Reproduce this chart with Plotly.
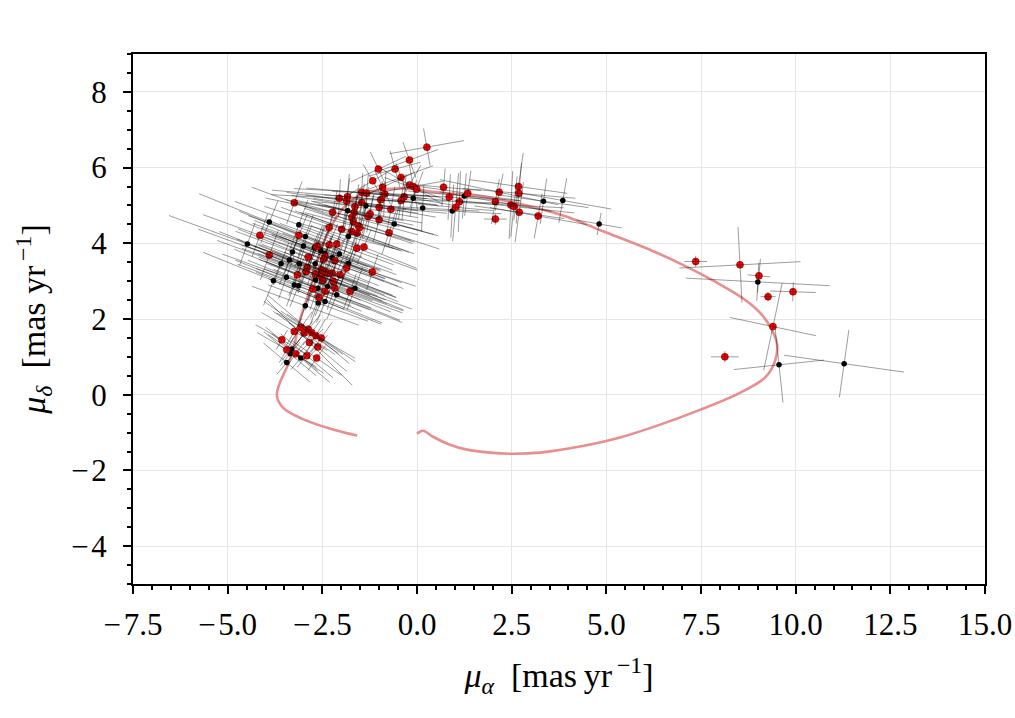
import numpy as np
import plotly.graph_objects as go

# ---------------- orbit curve ----------------
orbit_x = [0.00, 0.16, 0.42, 0.87, 1.32, 1.93, 2.46, 3.25, 4.30, 5.36, 6.42, 7.47, 8.53, 9.19,
           9.45, 9.51, 9.37, 9.11, 8.66, 7.92, 7.02, 6.15, 4.83, 3.96, 3.06, 2.19, 1.32, 0.42,
           -0.10, -0.45, -1.16, -1.69, -2.03, -2.38, -2.64, -2.83, -3.09, -3.27, -3.43, -3.62,
           -3.70, -3.54, -3.09, -2.22, -1.58]
orbit_y = [-1.03, -0.95, -1.11, -1.32, -1.45, -1.53, -1.56, -1.53, -1.37, -1.13, -0.79, -0.40,
           0.05, 0.45, 0.87, 1.32, 1.72, 2.11, 2.51, 2.96, 3.43, 3.83, 4.35, 4.70, 4.96, 5.15,
           5.28, 5.36, 5.44, 5.45, 5.38, 5.17, 4.83, 4.22, 3.51, 2.77, 1.98, 1.19, 0.74, 0.32,
           -0.03, -0.34, -0.61, -0.92, -1.08]

# ---------------- black stars ----------------
black_x = [-4.48, -3.90, -3.12, -2.95, -3.00, -3.29, -3.37, -3.59, -3.11, -3.79, -3.45, -3.24,
           -3.13, -2.71, -2.54, -2.05, -2.24, -1.81, -2.36, -2.68, -2.62, -2.12, -1.64, -2.43,
           -2.61, -2.95, -2.43, -2.69, -3.31, -3.35, -3.07, -3.44, -1.81, -1.35, -1.83, -0.60,
           -0.10, 0.15, 0.93, 1.25, 3.34, 3.85, 4.81, 9.00, 9.56, 11.28]
black_y = [3.98, 4.56, 4.49, 4.18, 3.93, 3.77, 3.56, 3.46, 3.46, 3.01, 3.10, 2.90,
           2.88, 3.89, 3.80, 3.72, 3.62, 3.47, 2.86, 3.03, 2.81, 2.64, 2.81, 2.46,
           2.42, 2.35, 3.74, 3.46, 1.21, 1.08, 0.97, 0.85, 4.18, 4.99, 4.86, 4.51,
           5.19, 4.93, 4.85, 5.25, 5.11, 5.13, 4.51, 2.98, 0.79, 0.82]
black_a = [2.2, 2.0, 1.8, 1.6, 1.8, 1.6, 2.0, 1.8, 1.6, 2.0, 1.8, 1.6,
           1.8, 1.5, 1.6, 1.6, 1.5, 1.5, 1.8, 1.6, 1.5, 1.8, 1.6, 1.6,
           1.4, 1.5, 1.5, 1.5, 0.9, 0.9, 1.0, 0.8, 1.4, 1.4, 1.5, 1.2,
           1.3, 1.5, 1.3, 1.5, 1.2, 1.3, 0.6, 1.9, 1.2, 1.6]
black_b = [0.6, 0.6, 0.7, 0.6, 0.6, 0.6, 0.7, 0.6, 0.6, 0.7, 0.6, 0.6,
           0.6, 0.6, 0.5, 0.6, 0.6, 0.6, 0.6, 0.6, 0.6, 0.7, 0.6, 0.6,
           0.6, 0.6, 0.5, 0.6, 0.4, 0.4, 0.4, 0.4, 0.5, 0.5, 0.5, 0.6,
           0.5, 0.6, 0.7, 0.6, 0.6, 0.6, 0.3, 0.5, 1.0, 0.9]
black_ang = [-20, -22, -20, -20, -22, -20, -22, -20, -18, -22, -20, -20,
             -22, -20, -18, -20, -22, -20, -22, -20, -20, -22, -20, -22,
             -20, -20, -20, -20, -40, -40, -40, -40, -15, -8, -10, -15,
             -10, -3, -3, -5, -8, -10, -10, -3, 6, -8]

# ---------------- red stars ----------------
red_x = [7.36, 8.53, 9.03, 9.27, 9.93, 9.40, 8.13,
         0.70, 0.85, 1.34, 1.12, 1.02, 2.17, 2.07, 2.07, 2.68, 2.69, 2.48, 2.56, 2.70, 3.20,
         0.26, -0.20, -1.02, -0.58, -0.42, -1.17, -0.91, -0.20, -0.10, -0.01,
         -0.34, -0.42, -0.85, -0.96, -0.69, -1.00, -1.00, -0.74, -1.46, -1.33, -1.84, -2.05,
         -1.86, -1.46, -1.64, -2.23, -1.66, -1.24, -1.29, -1.72, -1.68, -2.32, -1.99, -1.72,
         -1.55, -1.51, -1.58, -2.32, -2.12, -1.40, -1.59, -2.63,
         -3.24, -4.15, -3.12, -3.90, -3.16, -2.65, -2.87, -2.43, -2.17, -1.86, -1.18, -2.90,
         -2.93, -2.68, -2.52, -2.36, -2.24, -2.03, -2.21, -2.49, -2.75, -2.43, -2.17, -1.77,
         -2.59, -2.47, -2.52, -2.43,
         -3.24, -3.06, -2.98, -2.87, -2.78, -2.67, -2.53, -2.84, -2.62, -3.57, -3.44, -3.20,
         -2.91, -2.65]
red_y = [3.52, 3.43, 3.14, 2.59, 2.72, 1.80, 1.00,
         5.48, 5.22, 5.32, 5.10, 4.95, 5.35, 5.10, 4.64, 5.50, 5.32, 5.01, 4.97, 4.82, 4.72,
         6.54, 6.20, 5.96, 5.96, 5.74, 5.65, 5.48, 5.54, 5.50, 5.43,
         5.23, 5.13, 5.30, 5.15, 4.90, 4.95, 4.62, 4.28, 5.35, 5.32, 5.23, 5.19,
         5.12, 5.08, 4.97, 4.82, 4.81, 4.78, 4.71, 4.69, 4.57, 4.42, 4.37, 4.31,
         4.46, 4.42, 4.27, 3.96, 3.98, 3.90, 3.87, 3.93,
         5.07, 4.21, 4.21, 3.69, 3.17, 3.91, 3.63, 3.65, 3.54, 3.35, 3.24, 3.36,
         3.25, 3.19, 3.12, 3.21, 3.21, 3.17, 2.99, 3.02, 2.79, 2.73, 2.81, 2.73,
         2.57, 3.58, 3.30, 3.25,
         1.67, 1.78, 1.63, 1.73, 1.64, 1.56, 1.50, 1.38, 1.26, 1.45, 1.19, 1.08,
         1.03, 0.97]
red_a = [0.30, 1.60, 0.30, 0.20, 0.60, 1.16, 0.37,
         1.0, 1.2, 1.4, 1.5, 1.0, 1.6, 1.5, 0.3, 1.3, 1.5, 1.4, 1.6, 1.2, 1.3,
         1.0, 0.8, 0.8, 0.7, 0.9, 0.8, 0.9, 1.0, 0.8, 0.9,
         1.2, 1.0, 1.4, 1.5, 1.2, 1.8, 1.5, 1.4, 1.8, 1.6, 2.0, 1.8,
         1.6, 1.5, 1.7, 1.8, 1.6, 1.4, 1.5, 1.8, 1.6, 1.8, 1.7, 1.6,
         1.5, 1.5, 1.6, 1.8, 1.6, 1.5, 1.7, 1.8,
         1.2, 1.6, 1.7, 2.0, 1.8, 1.8, 2.0, 1.7, 1.8, 1.6, 1.2, 2.0,
         1.8, 1.9, 1.8, 2.0, 1.7, 1.6, 2.0, 1.8, 1.6, 2.2, 1.9, 1.5,
         1.8, 1.7, 1.8, 2.0,
         1.0, 1.2, 1.0, 1.4, 1.0, 1.2, 1.1, 1.6, 1.0, 0.8, 0.9, 0.9,
         0.9, 0.8]
red_b = [0.15, 1.00, 0.45, 0.12, 0.25, 1.18, 0.15,
         0.5, 0.6, 0.6, 0.8, 0.9, 0.5, 0.6, 0.15, 0.9, 0.8, 0.9, 0.8, 0.8, 0.6,
         0.5, 0.5, 0.5, 0.5, 0.4, 0.5, 0.5, 0.6, 0.6, 0.5,
         0.6, 0.5, 0.6, 0.5, 0.6, 0.5, 0.6, 0.6, 0.5, 0.5, 0.6, 0.5,
         0.6, 0.5, 0.6, 0.6, 0.6, 0.5, 0.6, 0.6, 0.6, 0.7, 0.6, 0.6,
         0.6, 0.5, 0.6, 0.6, 0.6, 0.5, 0.6, 0.6,
         0.6, 0.6, 0.6, 0.7, 0.6, 0.6, 0.7, 0.6, 0.6, 0.5, 0.5, 0.7,
         0.6, 0.6, 0.6, 0.7, 0.6, 0.6, 0.7, 0.6, 0.6, 0.7, 0.6, 0.5,
         0.6, 0.6, 0.6, 0.7,
         0.4, 0.5, 0.4, 0.5, 0.4, 0.5, 0.5, 0.5, 0.4, 0.3, 0.4, 0.4,
         0.4, 0.4]
red_ang = [0, 3, -5, 0, -2, -12, 0,
           -5, -3, -8, -2, -5, -12, -10, 0, -8, -5, -3, -6, -8, -10,
           10, 20, 25, 15, 20, 30, 25, -30, 10, -20,
           -5, -8, -3, -5, -10, -5, -15, -18, -3, -5, -5, -3,
           -8, -8, -10, -12, -12, -10, -15, -15, -18, -18, -20, -20,
           -18, -15, -20, -22, -20, -22, -20, -22,
           -20, -20, -22, -20, -22, -20, -22, -20, -22, -20, -18, -22,
           -20, -22, -20, -22, -20, -22, -22, -20, -20, -22, -20, -20,
           -22, -20, -22, -20,
           -30, -35, -35, -40, -35, -30, -35, -45, -40, -30, -30, -35,
           -40, -35]

x_ticks = [-7.5, -5.0, -2.5, 0.0, 2.5, 5.0, 7.5, 10.0, 12.5, 15.0]
y_ticks = [-4, -2, 0, 2, 4, 6, 8]

MINUS = "\u2212\u200a"


def err_segments(xs, ys, a_s, b_s, angs):
    sx, sy = [], []
    for x, y, a, b, t in zip(xs, ys, a_s, b_s, angs):
        th = np.deg2rad(t)
        c, s = np.cos(th), np.sin(th)
        sx += [x - a * c, x + a * c, None, x + b * s, x - b * s, None]
        sy += [y - a * s, y + a * s, None, y - b * c, y + b * c, None]
    return sx, sy


fig = go.Figure()

fig.add_trace(go.Scatter(x=orbit_x, y=orbit_y, mode="lines",
                         line=dict(color="#e88e8f", width=2.6, shape="spline"),
                         hoverinfo="skip", showlegend=False))

bx, by = err_segments(black_x, black_y, black_a, black_b, black_ang)
fig.add_trace(go.Scatter(x=bx, y=by, mode="lines", line=dict(color="rgba(0,0,0,0.65)", width=0.6),
                         hoverinfo="skip", showlegend=False))
fig.add_trace(go.Scatter(x=black_x, y=black_y, mode="markers",
                         marker=dict(color="black", size=5.5, line=dict(width=0)), showlegend=False))
fig.add_trace(go.Scatter(x=red_x, y=red_y, mode="markers",
                         marker=dict(color="#ff0000", size=7, line=dict(color="#500000", width=0.5)),
                         showlegend=False))
rx, ry = err_segments(red_x, red_y, red_a, red_b, red_ang)
fig.add_trace(go.Scatter(x=rx, y=ry, mode="lines", line=dict(color="rgba(0,0,0,0.65)", width=0.6),
                         hoverinfo="skip", showlegend=False))

font = "Liberation Serif, DejaVu Serif, serif"
axis_common = dict(
    showline=True, linecolor="black", linewidth=2, mirror=True,
    ticks="outside", ticklen=8, tickwidth=2, tickcolor="black",
    showgrid=True, gridcolor="#e6e6e6", gridwidth=1, zeroline=False,
    tickfont=dict(family=font, size=31, color="black"),
    automargin=False,
)

fig.update_xaxes(range=[-7.5, 15], tickvals=x_ticks,
                 ticktext=[(MINUS if v < 0 else "") + f"{abs(v):.1f}" for v in x_ticks],
                 ticklabelstandoff=4,
                 minor=dict(dtick=0.5, tick0=0, ticks="outside", ticklen=4, tickwidth=1.5, tickcolor="black",
                            showgrid=False),
                 title=dict(text="<i>μ</i><sub><i>α</i></sub>\u2002[mas\u2009yr<sup>\u2009−1</sup>]",
                            font=dict(family=font, size=34, color="black"), standoff=22),
                 **axis_common)
fig.update_yaxes(range=[-5, 9], tickvals=y_ticks,
                 ticktext=[(MINUS if v < 0 else "") + f"{abs(v)}" for v in y_ticks],
                 ticklabelstandoff=10,
                 minor=dict(dtick=0.5, tick0=0, ticks="outside", ticklen=4, tickwidth=1.5, tickcolor="black",
                            showgrid=False),
                 title=dict(text="<i>μ</i><sub><i>δ</i></sub>\u2002[mas yr<sup>\u2009−1</sup>]",
                            font=dict(family=font, size=34, color="black"), standoff=15),
                 **axis_common)

fig.update_layout(width=1015, height=718, margin=dict(l=133, r=30, t=54, b=134),
                  plot_bgcolor="white", paper_bgcolor="white", showlegend=False)

fig.write_html("out.html", config={"responsive": False})
